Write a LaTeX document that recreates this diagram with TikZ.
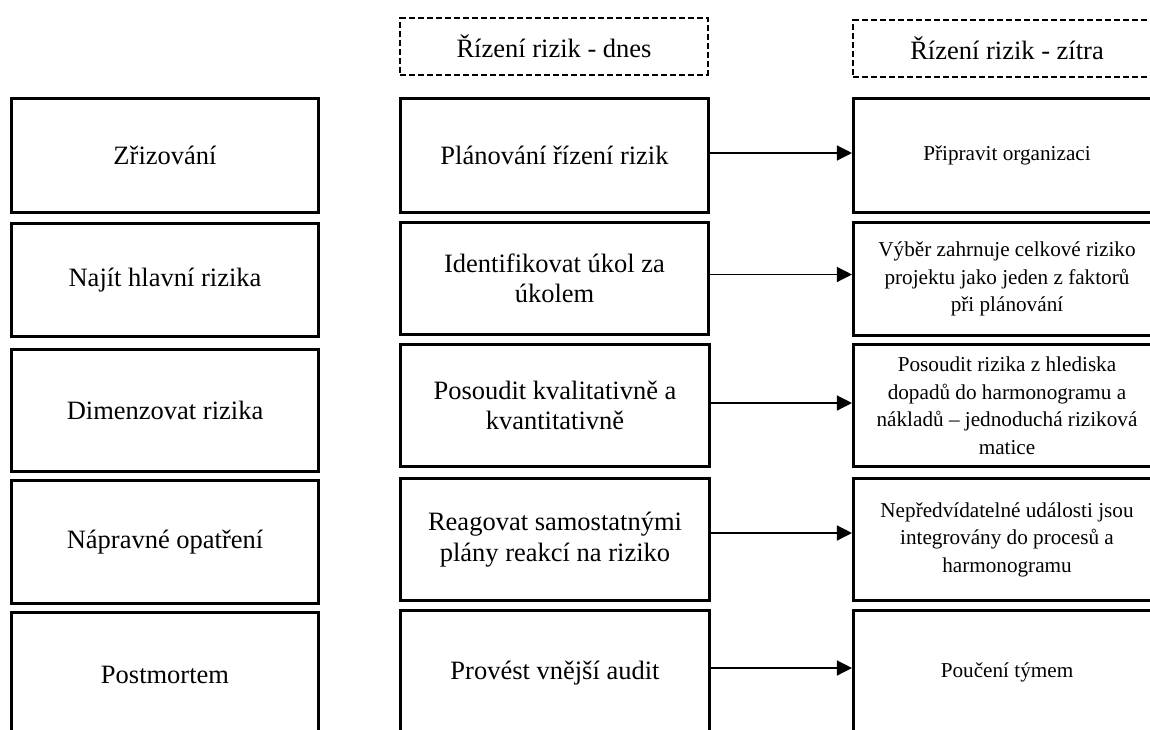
\documentclass[tikz,border=0pt]{standalone}
\usepackage{fontspec}
\setmainfont{Liberation Serif}
\usetikzlibrary{arrows.meta}

\begin{document}
\begin{tikzpicture}[x=1pt,y=-1pt,
  box/.style={draw=black,line width=2.6pt,fill=white,align=center,inner sep=0pt},
  bigtext/.style={font=\fontsize{26.5}{30.5}\selectfont},
  smalltext/.style={font=\fontsize{21.2}{27.5}\selectfont},
  leftbox/.style={box,bigtext,minimum width=307.5pt},
  midbox/.style={box,bigtext,minimum width=308.5pt},
  rightbox/.style={box,smalltext,minimum width=307.5pt},
  headbox/.style={draw=black,line width=2.4pt,dash pattern=on 6pt off 3pt,bigtext,minimum width=307.5pt,minimum height=56.5pt,inner sep=0pt},
  arr/.style={line width=1.3pt,-{Triangle[length=15pt,width=15pt]}}
]
\useasboundingbox (0,0) rectangle (1150,729);
\clip (0,0) rectangle (1150,729);

% column headers
\node[headbox] (hd) at (554,46.5) {Řízení rizik - dnes};
\node[headbox] (hz) at (1007,48.5) {Řízení rizik - zítra};

% left column: phases
\node[leftbox,minimum height=114.5pt] (l1) at (165,155.5) {Zřizování};
\node[leftbox,minimum height=113.5pt] (l2) at (165,280) {Najít hlavní rizika};
\node[leftbox,minimum height=122.5pt] (l3) at (165,410.5) {Dimenzovat rizika};
\node[leftbox,minimum height=123.5pt] (l4) at (165,542) {Nápravné opatření};
\node[leftbox,minimum height=125.5pt] (l5) at (165,675) {Postmortem};

% middle column: risk management today
\node[midbox,minimum height=114.5pt] (m1) at (554.5,155.5) {Plánování řízení rizik};
\node[midbox,minimum height=112.5pt] (m2) at (554.5,278.5) {Identifikovat úkol za\\úkolem};
\node[midbox,minimum height=122.5pt] (m3) at (555,405.5) {Posoudit kvalitativně a\\kvantitativně};
\node[midbox,minimum height=122.5pt] (m4) at (555,539.5) {Reagovat samostatnými\\plány reakcí na riziko};
\node[midbox,minimum height=125.5pt] (m5) at (555,673) {Provést vnější audit};

% right column: risk management tomorrow
\node[rightbox,minimum height=114.5pt] (r1) at (1007,155.5) {Připravit organizaci};
\node[rightbox,minimum height=113.5pt] (r2) at (1007,279) {Výběr zahrnuje celkové riziko\\projektu jako jeden z faktorů\\při plánování};
\node[rightbox,minimum height=122.5pt] (r3) at (1007,405.5) {Posoudit rizika z hlediska\\dopadů do harmonogramu a\\nákladů – jednoduchá riziková\\matice};
\node[rightbox,minimum height=122.5pt] (r4) at (1007,539.5) {Nepředvídatelné události jsou\\integrovány do procesů a\\harmonogramu};
\node[rightbox,minimum height=123.5pt] (r5) at (1007,672) {Poučení týmem};

% connectors today -> tomorrow (kept horizontal)
\draw[arr] ([yshift=2.5pt]m1.east) -- ([yshift=2.5pt]m1.east -| r1.west);
\draw[arr] ([yshift=4pt]m2.east) -- ([yshift=4pt]m2.east -| r2.west);
\draw[arr] ([yshift=2.5pt]m3.east) -- ([yshift=2.5pt]m3.east -| r3.west);
\draw[arr] ([yshift=6.5pt]m4.east) -- ([yshift=6.5pt]m4.east -| r4.west);
\draw[arr] ([yshift=5pt]m5.east) -- ([yshift=5pt]m5.east -| r5.west);
\end{tikzpicture}
\end{document}
